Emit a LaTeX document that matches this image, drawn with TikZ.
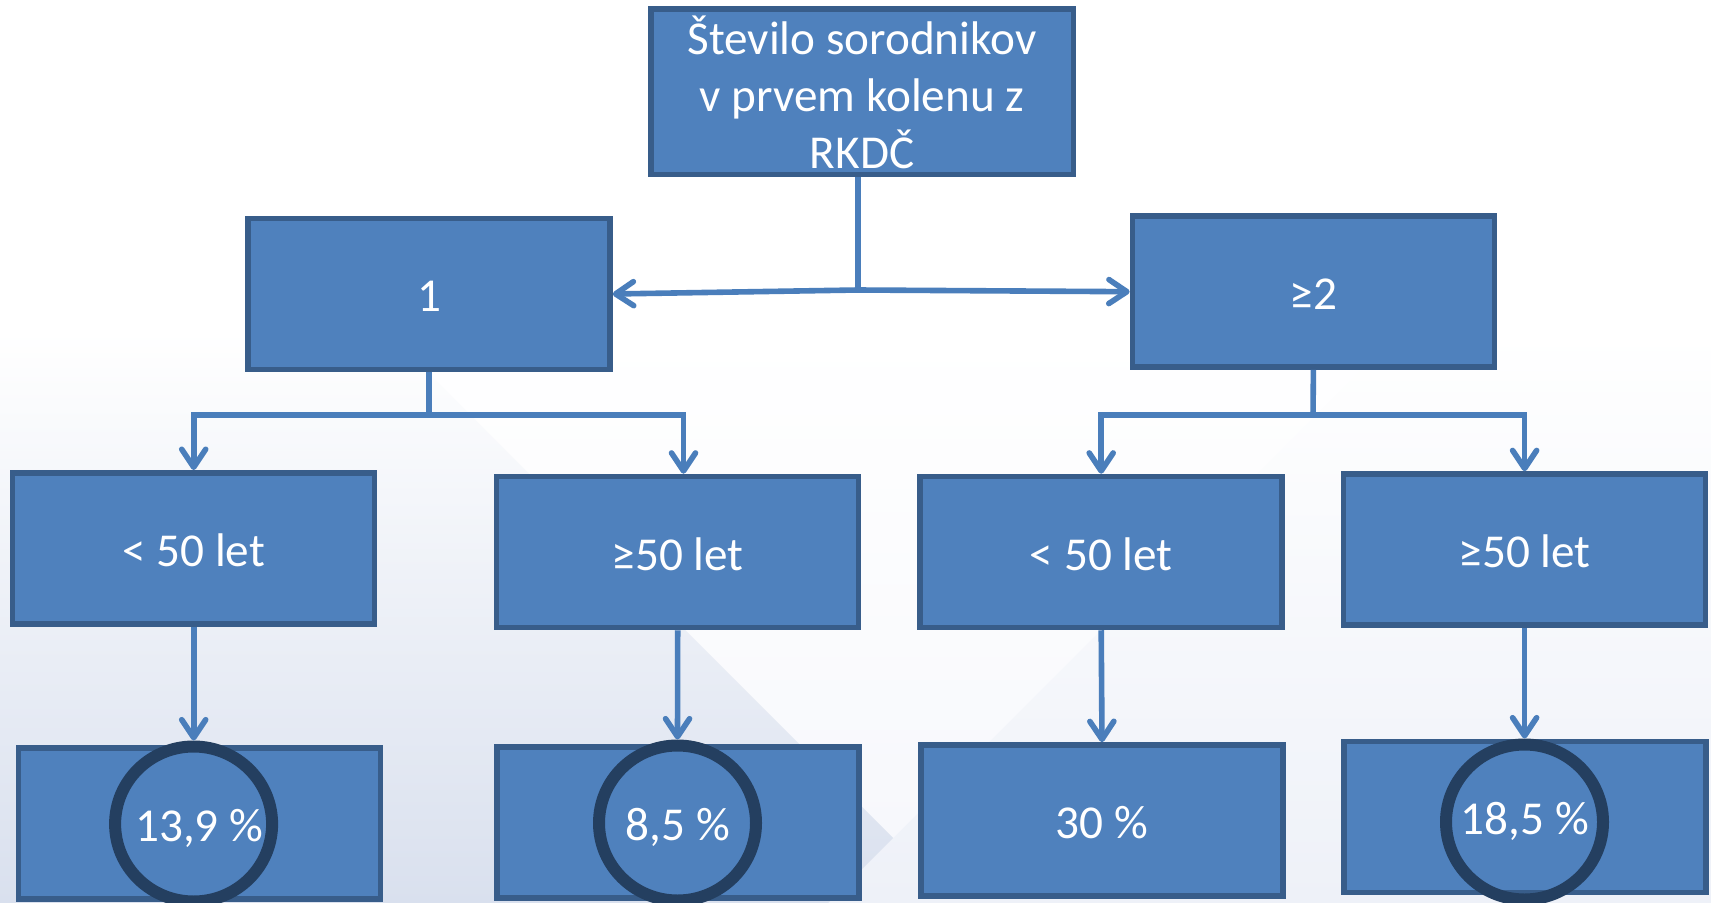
\documentclass[tikz,border=0pt]{standalone}
\usepackage{fontspec}
\setmainfont{Carlito}
\usetikzlibrary{arrows.meta,shapes.geometric}
\definecolor{boxfill}{HTML}{4F81BD}
\definecolor{boxline}{HTML}{385D8A}
\definecolor{conn}{HTML}{4A7EBB}
\definecolor{ringcol}{HTML}{243F60}
\definecolor{bgdark}{HTML}{D9E0EE}
\definecolor{bglight}{HTML}{EEF1F8}
\definecolor{bgv}{HTML}{F7F8FC}
\begin{document}
\begin{tikzpicture}[x=0.5pt,y=-0.5pt,
  boxbase/.style={draw=boxline, fill=boxfill, line width=2.75pt, inner sep=0pt,
    text=white, font=\fontsize{23.6pt}{28.5pt}\selectfont},
  box/.style={boxbase, minimum width=181pt, minimum height=75.5pt, text height=18pt, text depth=0pt},
  ringnode/.style={draw=ringcol, line width=6pt, ellipse, minimum width=78.5pt, minimum height=77.5pt, inner sep=0pt},
  conline/.style={draw=conn, line width=2.8pt},
  arr/.style={conline, -{Straight Barb[length=9pt,width=12pt,round]}}]
\useasboundingbox (0,0) rectangle (1711,903);
\clip (0,0) rectangle (1711,903);
% background
\fill[white] (0,0) rectangle (1711,903);
\shade[top color=white, bottom color=bglight] (0,330) rectangle (1711,903);
\shade[top color=white, bottom color=bgv] (385,330) -- (1401,330) -- (893,838) -- cycle;
\shade[top color=white, bottom color=bgdark] (0,330) -- (385,330) -- (893,838) -- (828,903) -- (0,903) -- cycle;
% boxes
\node[boxbase, minimum width=211.25pt, minimum height=82.75pt, align=center] (top) at (862,92) {Število sorodnikov\\v prvem kolenu z\\RKDČ};
\node[box] (b1) at (429,294) {1};
\node[box] (b2) at (1313.4,291.7) {≥2};
\node[box] (a) at (193.7,548.3) {< 50 let};
\node[box] (bb) at (677.7,552) {≥50 let};
\node[box] (c) at (1101.2,552) {< 50 let};
\node[box] (d) at (1524.6,549.5) {≥50 let};
\node[box] (e) at (199.3,823.3) {13,9 \%};
\node[box] (f) at (678,822.5) {8,5 \%};
\node[box] (g) at (1102,820.4) {30 \%};
\node[box] (h) at (1524.9,816.8) {18,5 \%};
% rings
\node[ringnode] (r1) at (193.6,824) {};
\node[ringnode] (r2) at (677.5,823) {};
\node[ringnode] (r4) at (1524.5,822) {};
% connectors
\coordinate (j1) at (858,290);
\draw[conline] (j1 |- top.south) -- (j1);
\draw[arr] (j1) -- (b1.east);
\draw[arr] (j1) -- (b2.west);
\coordinate (j2) at (429,415);
\coordinate (j2r) at (683.5,415);
\draw[conline] (b1.south) -- (j2);
\draw[arr] (j2) -| (a.north);
\draw[arr] (j2) -| (j2r |- bb.north);
\coordinate (j3) at (1313,415);
\draw[conline] (b2.south) -- (j3);
\draw[arr] (j3) -| (c.north);
\draw[arr] (j3) -| (d.north);
\draw[arr] (a.south) -- (a.south |- r1.north);
\draw[arr] (bb.south) -- (r2.north);
\draw[arr] (c.south) -- (g.north);
\draw[arr] (d.south) -- (d.south |- r4.north);
\end{tikzpicture}
\end{document}
